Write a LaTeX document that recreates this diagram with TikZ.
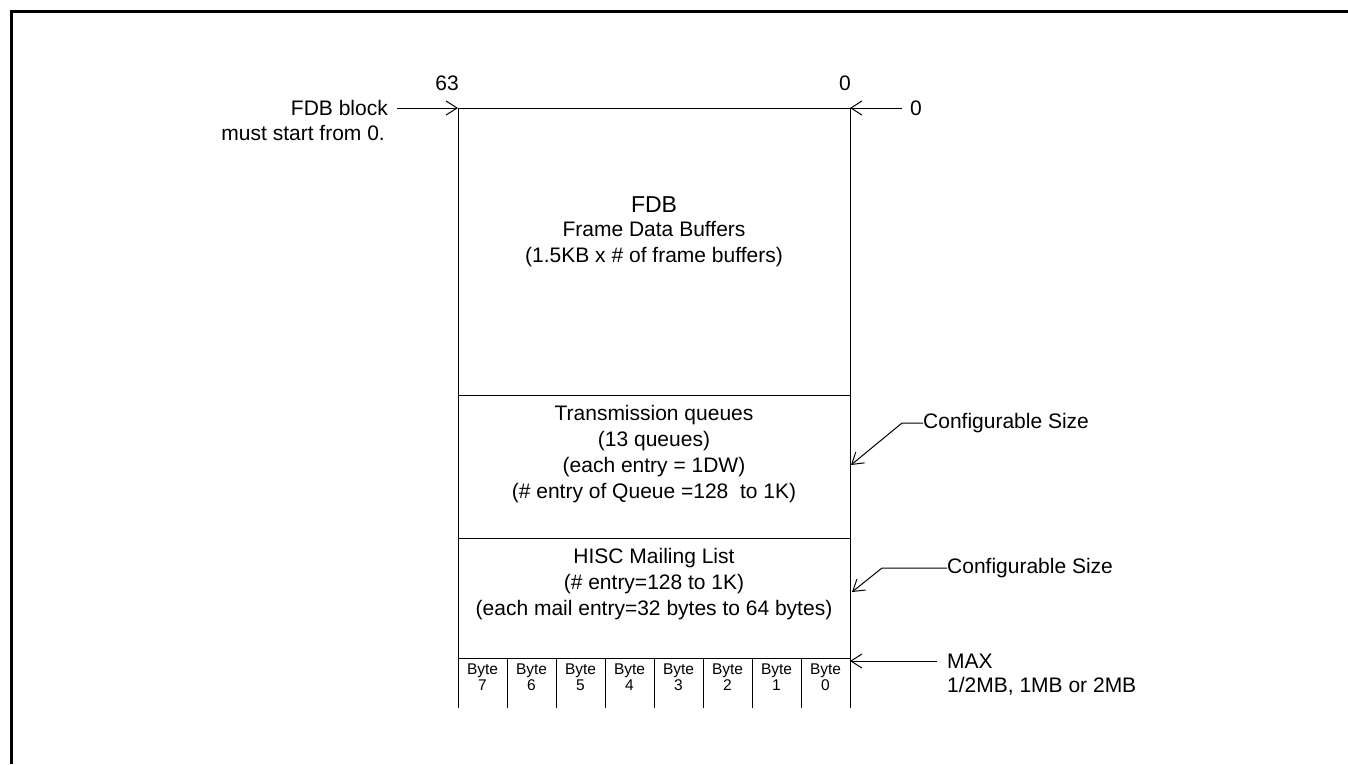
\documentclass[tikz,border=0pt]{standalone}
\usepackage{fontspec}
\setmainfont{Liberation Sans}
\usetikzlibrary{arrows.meta}
\tikzset{
  lbl/.style={inner sep=0pt, font=\fontsize{21}{26}\selectfont},
  blocktxt/.style={lbl, align=center},
  titletxt/.style={inner sep=0pt, font=\fontsize{23}{26}\selectfont},
  bytetxt/.style={inner sep=0pt, align=center, font=\fontsize{15.5}{16}\selectfont},
  boxline/.style={line width=1pt},
  arr/.style={line width=1pt, -{Straight Barb[length=11pt,width=14pt,line width=1pt]}},
  frameline/.style={line width=2.6pt},
}
\begin{document}
\begin{tikzpicture}[x=1pt,y=-1pt]
\useasboundingbox (0,0) rectangle (1348,764);
\draw[frameline] (11.5,764) -- (11.5,11.5) -- (1348,11.5);

% main memory block
\coordinate (TL) at (458,108);
\coordinate (TR) at (850,108);
\coordinate (BL) at (458,708);
\coordinate (BR) at (850,708);
\draw[boxline] (BL) -- (TL) -- (TR) -- (BR);
\draw[boxline] (458,395) -- (850,395);
\draw[boxline] (458,538) -- (850,538);
\draw[boxline] (458,658) -- (850,658);
\foreach \i in {1,...,7} {
  \draw[boxline] (458+49*\i,658) -- (458+49*\i,708);
}
\foreach \i in {0,...,7} {
  \node[bytetxt] (byte\i) at ({458+24.5+49*(7-\i)},677) {Byte\\\i};
}

% section texts
\node[titletxt] (fdbtitle) at (654,205) {FDB};
\node[blocktxt] (fdbtxt) at (654,244) {Frame Data Buffers\\(1.5KB x \# of frame buffers)};
\node[blocktxt] (txq) at (654,454) {Transmission queues\\(13 queues)\\(each entry = 1DW)\\(\# entry of Queue =128\ \ to 1K)};
\node[blocktxt] (hisc) at (654,584) {HISC Mailing List\\(\# entry=128 to 1K)\\(each mail entry=32 bytes to 64 bytes)};

% bit labels
\node[lbl] (bit63) at (447,83) {63};
\node[lbl] (bit0) at (845,83) {0};

% left label
\node[lbl, anchor=east] (fdbblk) at (388,108) {FDB block};
\node[lbl, anchor=east] (muststart) at (385,133) {must start from 0.};
\draw[arr] ([xshift=9pt]fdbblk.east) -- (TL);

% right labels
\node[lbl, anchor=west] (zero) at (910,108) {0};
\draw[arr] ([xshift=-8pt]zero.west) -- (TR);

\node[lbl, anchor=west] (cfg1) at (923,423) {Configurable Size};
\coordinate (cfg1tip) at (851,465);
\draw[arr] (cfg1.west) -- ([xshift=-21pt]cfg1.west) -- (cfg1tip);

\node[lbl, anchor=west] (cfg2) at (947,568) {Configurable Size};
\coordinate (cfg2tip) at (852,592);
\draw[arr] (cfg2.west) -- ([xshift=-65pt]cfg2.west) -- (cfg2tip);

\node[lbl, anchor=west] (max) at (947,661) {MAX};
\node[lbl, anchor=west] (maxsz) at (947,686) {1/2MB, 1MB or 2MB};
\coordinate (maxtip) at (850,661);
\draw[arr] ([xshift=-10pt]max.west) -- (maxtip);
\end{tikzpicture}
\end{document}
